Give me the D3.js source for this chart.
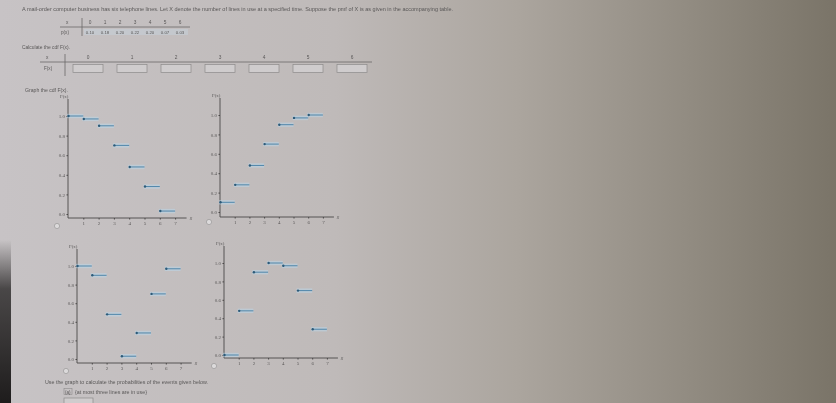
<!DOCTYPE html>
<html>
<head>
<meta charset="utf-8">
<script src="https://cdn.jsdelivr.net/npm/d3@7"></script>
<style>
  html, body { margin: 0; padding: 0; background: #bdb8b6; }
  svg { display: block; font-family: "Liberation Sans", "DejaVu Sans", sans-serif; }
</style>
</head>
<body>
<div id="chart"></div>
<script>
// pmf table
var xValues = [0, 1, 2, 3, 4, 5, 6];
var pmfValues = ["0.10", "0.18", "0.20", "0.22", "0.20", "0.07", "0.03"];

// the four candidate cdf graphs (value of each step starting at x)
var graphA = [1.00, 0.97, 0.90, 0.70, 0.48, 0.28, 0.03];
var graphB = [0.10, 0.28, 0.48, 0.70, 0.90, 0.97, 1.00];
var graphC = [1.00, 0.90, 0.48, 0.03, 0.28, 0.70, 0.97];
var graphD = [0.00, 0.48, 0.90, 1.00, 0.97, 0.70, 0.28];

var xTicks = [1, 2, 3, 4, 5, 6, 7];
var yTicks = [0, 0.2, 0.4, 0.6, 0.8, 1.0];

var width = 836, height = 403;
var textColor = "#5a5858";

var svg = d3.select("#chart").append("svg")
    .attr("width", width)
    .attr("height", height)
    .style("filter", "blur(0.45px)");

// photo-like background
var defs = svg.append("defs");
var bg = defs.append("linearGradient").attr("id", "bg");
[["0", "#c7c3c5"], ["0.4", "#bfbab9"], ["0.62", "#aba59e"], ["0.82", "#928c82"], ["1", "#7a7468"]]
    .forEach(function (s) { bg.append("stop").attr("offset", s[0]).attr("stop-color", s[1]); });
var edge = defs.append("linearGradient").attr("id", "edge")
    .attr("x1", 0).attr("y1", 0).attr("x2", 0).attr("y2", 1);
edge.append("stop").attr("offset", "0").attr("stop-color", "#2a2828").attr("stop-opacity", 0);
edge.append("stop").attr("offset", "0.3").attr("stop-color", "#2a2828").attr("stop-opacity", 0.8);
edge.append("stop").attr("offset", "1").attr("stop-color", "#1e1c1c").attr("stop-opacity", 1);

svg.append("rect").attr("width", width).attr("height", height).attr("fill", "url(#bg)");
svg.append("rect").attr("x", 0).attr("y", 240).attr("width", 11).attr("height", 163).attr("fill", "url(#edge)");

function label(x, y, str, size, len) {
    var t = svg.append("text")
        .attr("x", x).attr("y", y)
        .attr("font-size", size || 5)
        .attr("fill", textColor)
        .text(str);
    if (len) t.attr("textLength", len).attr("lengthAdjust", "spacingAndGlyphs");
    return t;
}

// header text
label(22, 11, "A mail-order computer business has six telephone lines. Let X denote the number of lines in use at a specified time. Suppose the pmf of X is as given in the accompanying table.", 4.8, 431);

// pmf table
var pmfX = d3.scalePoint().domain(xValues).range([90, 180]);
label(66, 24, "x", 4.8);
label(61, 33.5, "p(x)", 4.6);
svg.append("line").attr("x1", 60).attr("x2", 190).attr("y1", 27).attr("y2", 27).attr("stroke", "#6a6868").attr("stroke-width", 0.8);
svg.append("line").attr("x1", 82).attr("x2", 82).attr("y1", 18).attr("y2", 36).attr("stroke", "#6a6868").attr("stroke-width", 0.8);
svg.append("rect").attr("x", 84).attr("y", 29).attr("width", 104).attr("height", 6)
    .attr("fill", "#c6d2dc").attr("opacity", 0.5);
svg.selectAll(".pmfx").data(xValues).enter().append("text")
    .attr("x", function (d) { return pmfX(d); }).attr("y", 24)
    .attr("text-anchor", "middle").attr("font-size", 4.8).attr("fill", textColor)
    .text(function (d) { return d; });
svg.selectAll(".pmfp").data(pmfValues).enter().append("text")
    .attr("x", function (d, i) { return pmfX(xValues[i]); }).attr("y", 33.5)
    .attr("text-anchor", "middle").attr("font-size", 4.4).attr("fill", textColor)
    .text(function (d) { return d; });

// cdf table
label(22, 48.5, "Calculate the cdf F(x).", 4.8, 48);
var cdfX = d3.scalePoint().domain(xValues).range([88, 352]);
label(46, 59, "x", 4.8);
label(44, 70, "F(x)", 4.6);
svg.append("line").attr("x1", 40).attr("x2", 372).attr("y1", 62).attr("y2", 62).attr("stroke", "#6a6868").attr("stroke-width", 0.8);
svg.append("line").attr("x1", 65).attr("x2", 65).attr("y1", 54).attr("y2", 76).attr("stroke", "#6a6868").attr("stroke-width", 0.8);
svg.selectAll(".cdfx").data(xValues).enter().append("text")
    .attr("x", function (d) { return cdfX(d); }).attr("y", 59)
    .attr("text-anchor", "middle").attr("font-size", 4.8).attr("fill", textColor)
    .text(function (d) { return d; });
svg.selectAll(".cdfbox").data(xValues).enter().append("rect")
    .attr("x", function (d) { return cdfX(d) - 15; }).attr("y", 64.5)
    .attr("width", 30).attr("height", 8)
    .attr("fill", "#cfcccd").attr("stroke", "#8c8a8a").attr("stroke-width", 0.7);

label(25, 91.5, "Graph the cdf F(x).", 4.8, 43);

// one cdf panel
function drawPanel(values, p) {
    var x = d3.scaleLinear().domain([0, 7]).range([p.x0, p.x0 + 7 * p.unit]);
    var y = d3.scaleLinear().domain([0, 1]).range([p.y0, p.y1]);
    var g = svg.append("g");

    // axes
    var yAxis = d3.axisLeft(y).tickValues(yTicks).tickSize(1.5).tickPadding(1.5)
        .tickFormat(d3.format(".1f"));
    var ya = g.append("g").attr("transform", "translate(" + p.x0 + ",0)").call(yAxis);
    ya.select(".domain").remove();
    g.append("line").attr("x1", p.x0).attr("x2", p.x0)
        .attr("y1", p.axisY).attr("y2", p.y1 - 17)
        .attr("stroke", "#4a4848").attr("stroke-width", 0.9);

    var xAxis = d3.axisBottom(x).tickValues(xTicks).tickSize(1.5).tickPadding(1.5)
        .tickFormat(d3.format("d"));
    var xa = g.append("g").attr("transform", "translate(0," + p.axisY + ")").call(xAxis);
    xa.select(".domain").remove();
    g.append("line").attr("x1", p.x0).attr("x2", x(7.75))
        .attr("y1", p.axisY).attr("y2", p.axisY)
        .attr("stroke", "#4a4848").attr("stroke-width", 0.9);

    g.selectAll(".tick text").attr("font-size", 5).attr("fill", textColor)
        .attr("font-family", "Liberation Serif, DejaVu Serif, serif");
    g.selectAll(".tick line").attr("stroke", "#4a4848");

    g.append("text").attr("x", x(7.95)).attr("y", p.axisY + 1.5)
        .attr("font-size", 4.8).attr("fill", textColor).attr("font-style", "italic").text("x");
    g.append("text").attr("x", p.x0 - 8).attr("y", p.y1 - 18)
        .attr("font-size", 4.8).attr("fill", textColor)
        .attr("font-family", "Liberation Serif, DejaVu Serif, serif").text("F(x)");

    // steps
    var steps = g.selectAll(".step").data(values).enter().append("g");
    steps.append("rect")
        .attr("x", function (d, i) { return x(xValues[i]) - 1; })
        .attr("y", function (d) { return y(d) - 2.2; })
        .attr("width", p.unit + 1).attr("height", 4.4)
        .attr("fill", "#b9d5e8").attr("opacity", 0.55);
    steps.append("line")
        .attr("x1", function (d, i) { return x(xValues[i]); })
        .attr("x2", function (d, i) { return x(xValues[i] + 1); })
        .attr("y1", function (d) { return y(d); })
        .attr("y2", function (d) { return y(d); })
        .attr("stroke", "#4f86aa").attr("stroke-width", 1);
    steps.append("circle")
        .attr("cx", function (d, i) { return x(xValues[i]) + 0.5; })
        .attr("cy", function (d) { return y(d); })
        .attr("r", 1.2).attr("fill", "#2d5a78");

    // radio button
    svg.append("circle").attr("cx", p.radioX).attr("cy", p.radioY).attr("r", 2.6)
        .attr("fill", "#dcdadb").attr("stroke", "#9a9898").attr("stroke-width", 0.7);
}

drawPanel(graphA, { x0: 68, unit: 15.3, y0: 214, y1: 116, axisY: 218, radioX: 57, radioY: 226 });
drawPanel(graphB, { x0: 220, unit: 14.7, y0: 212, y1: 115, axisY: 217, radioX: 209, radioY: 222 });
drawPanel(graphC, { x0: 77, unit: 14.8, y0: 359, y1: 266, axisY: 363, radioX: 66, radioY: 371 });
drawPanel(graphD, { x0: 224, unit: 14.7, y0: 355, y1: 263, axisY: 358, radioX: 214, radioY: 366 });

// questions below
label(45, 384, "Use the graph to calculate the probabilities of the events given below.", 4.6, 163);
svg.append("rect").attr("x", 64).attr("y", 388.5).attr("width", 8).attr("height", 6)
    .attr("fill", "none").attr("stroke", "#8c8a8a").attr("stroke-width", 0.6);
label(65, 393.5, "(a)", 4.6);
label(75, 393.5, "{at most three lines are in use}", 4.6, 72);
svg.append("rect").attr("x", 64).attr("y", 398).attr("width", 29).attr("height", 10)
    .attr("fill", "#cfcccd").attr("stroke", "#8c8a8a").attr("stroke-width", 0.7);
</script>
</body>
</html>
